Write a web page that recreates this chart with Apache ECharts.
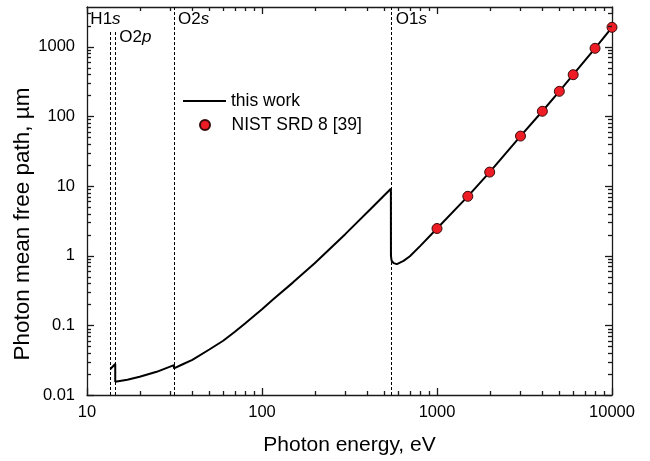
<!DOCTYPE html>
<html>
<head>
<meta charset="utf-8">
<script src="https://cdn.jsdelivr.net/npm/echarts@6/dist/echarts.min.js"></script>
<style>
  html, body { margin: 0; padding: 0; background: #fff; }
  #chart { width: 650px; height: 461px; }
</style>
</head>
<body>
<div id="chart"></div>
<script>
// Calculated photon mean free path (this work): energy in eV, path in µm
const workEnergy = [13.6, 14.5, 14.5, 17, 20, 25, 31.4, 31.4, 35, 40, 50, 60, 70, 80, 100, 116, 150, 200, 300, 416, 545,
                    545.5, 550, 565, 590, 644, 700, 803, 1000, 1500, 2000, 3000, 4000, 5000, 6000, 8000, 10000];
const workPath   = [0.0236, 0.0278, 0.0155, 0.0166, 0.0183, 0.0215, 0.0268, 0.0241, 0.0274, 0.032, 0.045, 0.060, 0.081, 0.106, 0.170, 0.237, 0.41, 0.78, 2.05, 4.62, 9.14,
                    1.0, 0.85, 0.78, 0.755, 0.84, 0.98, 1.38, 2.45, 7.1, 15.8, 52, 118, 228, 395, 945, 1890];

// NIST SRD 8 reference points
const nistEnergy = [1000, 1500, 2000, 3000, 4000, 5000, 6000, 8000, 10000];
const nistPath   = [2.45, 7.1, 15.8, 52, 118, 228, 395, 945, 1890];

// Ionisation thresholds marked by dashed lines
const edgeShell   = ['H1', 'O2', 'O2', 'O1'];
const edgeOrbital = ['s', 'p', 's', 's'];
const edgeEnergy  = [13.6, 14.5, 31.4, 545];

// Axis ranges and labelled decades
const xRange = [10, 10000];
const yRange = [0.01, 3700];
const xTickLabels = ['10', '100', '1000', '10000'];
const yTickLabels = ['0.01', '0.1', '1', '10', '100', '1000'];

const FONT = "'Liberation Sans', Arial, Helvetica, sans-serif";
const INK = '#1a1a1a';
const TICK_INK = '#1a1a1a';
const MAJOR_LEN = 7;
const MINOR_LEN = 4;

// tick values: decades and the 2..9 multiples between them
function decadeValues(lo, hi) {
  const out = [];
  for (let e = Math.ceil(Math.log10(lo) - 1e-9); e <= Math.floor(Math.log10(hi) + 1e-9); e++) out.push(Math.pow(10, e));
  return out;
}
function minorValues(lo, hi) {
  const out = [];
  for (let e = Math.floor(Math.log10(lo)); e <= Math.ceil(Math.log10(hi)); e++) {
    for (let k = 2; k <= 9; k++) {
      const v = k * Math.pow(10, e);
      if (v > lo * 1.0001 && v < hi * 0.9999) out.push(v);
    }
  }
  return out;
}

function decadeLabel(labels) {
  return function (v) {
    const e = Math.log10(v);
    if (Math.abs(e - Math.round(e)) > 1e-6) return '';
    const s = v >= 1 ? String(Math.round(v)) : String(Number(v.toPrecision(1)));
    return labels.indexOf(s) >= 0 ? s : '';
  };
}

// tick rows for the custom series: [x, y, side(0 = x axes, 1 = y axes), length]
const tickRows = []
  .concat(decadeValues(xRange[0], xRange[1]).map(v => [v, yRange[0], 0, MAJOR_LEN]))
  .concat(minorValues(xRange[0], xRange[1]).map(v => [v, yRange[0], 0, MINOR_LEN]))
  .concat(decadeValues(yRange[0], yRange[1]).map(v => [xRange[0], v, 1, MAJOR_LEN]))
  .concat(minorValues(yRange[0], yRange[1]).map(v => [xRange[0], v, 1, MINOR_LEN]));

// inward ticks on both opposite frame sides
function renderTick(params, api) {
  const side = api.value(2);
  const len = api.value(3);
  const style = { stroke: TICK_INK, lineWidth: 1.3 };
  if (side === 0) {
    const v = api.value(0);
    const a = api.coord([v, yRange[0]]);
    const b = api.coord([v, yRange[1]]);
    const x = Math.round(a[0]) + 0.5;
    return { type: 'group', children: [
      { type: 'line', shape: { x1: x, y1: a[1], x2: x, y2: a[1] - len }, style: style },
      { type: 'line', shape: { x1: x, y1: b[1], x2: x, y2: b[1] + len }, style: style }
    ] };
  }
  const v = api.value(1);
  const a = api.coord([xRange[0], v]);
  const b = api.coord([xRange[1], v]);
  const y = Math.round(a[1]) + 0.5;
  return { type: 'group', children: [
    { type: 'line', shape: { x1: a[0], y1: y, x2: a[0] + len, y2: y }, style: style },
    { type: 'line', shape: { x1: b[0], y1: y, x2: b[0] - len, y2: y }, style: style }
  ] };
}

// dashed threshold lines; the two lowest stop below the label row
const edgeLineTop = [1700, 1700, yRange[1], yRange[1]];
const edgeLabelDx = [-20, 4, 4, 5];
const edgeLabelY  = [11, 29, 11, 11];

function logAxis(range, pos) {
  return {
    type: 'log', logBase: 10, min: range[0], max: range[1], position: pos,
    axisLine: { show: true, onZero: false, lineStyle: { color: INK, width: 1.3 } },
    axisTick: { show: false },
    splitLine: { show: false },
    minorTick: { show: false },
    axisLabel: { show: false }
  };
}

const chart = echarts.init(document.getElementById('chart'), null, { renderer: 'canvas' });

const xMain = logAxis(xRange, 'bottom');
xMain.axisLabel = { show: true, color: '#000', fontSize: 16.5, fontFamily: FONT, margin: 9, formatter: decadeLabel(xTickLabels) };
xMain.name = 'Photon energy, eV';
xMain.nameLocation = 'middle';
xMain.nameGap = 40;
xMain.nameTextStyle = { color: '#000', fontSize: 21, fontFamily: FONT };

const yMain = logAxis(yRange, 'left');
yMain.axisLabel = { show: true, color: '#000', fontSize: 16.5, fontFamily: FONT, margin: 12, formatter: decadeLabel(yTickLabels), showMaxLabel: false };

const legendText = { color: '#000', fontSize: 17.5, fontFamily: FONT };

const option = {
  backgroundColor: '#fff',
  animation: false,
  grid: { left: 87, right: 38, top: 7, bottom: 65, containLabel: false },
  xAxis: [xMain, logAxis(xRange, 'top')],
  yAxis: [yMain, logAxis(yRange, 'right')],
  legend: [
    {
      data: [{ name: 'this work', icon: 'rect' }], orient: 'vertical', left: 183, top: 92, padding: 0,
      itemWidth: 43, itemHeight: 2, textStyle: legendText
    },
    {
      data: [{ name: 'NIST SRD 8 [39]', icon: 'circle' }], orient: 'vertical', left: 199, top: 116, padding: 0,
      itemWidth: 43, itemHeight: 10, textStyle: legendText
    }
  ],
  series: [
    {
      name: 'this work', type: 'line', xAxisIndex: 0, yAxisIndex: 0,
      data: workEnergy.map((e, i) => [e, workPath[i]]),
      symbol: 'none', showSymbol: false, smooth: false,
      lineStyle: { color: '#000', width: 2 },
      itemStyle: { color: '#000' },
      z: 3,
      markLine: {
        silent: true, symbol: 'none', animation: false,
        label: { show: false },
        lineStyle: { color: '#000', width: 1, type: [3, 2] },
        data: edgeEnergy.map((e, i) => [
          { coord: [e, yRange[0]] },
          { coord: [e, edgeLineTop[i]] }
        ])
      }
    },
    {
      name: 'NIST SRD 8 [39]', type: 'scatter', xAxisIndex: 0, yAxisIndex: 0,
      data: nistEnergy.map((e, i) => [e, nistPath[i]]),
      symbol: 'circle', symbolSize: 10,
      itemStyle: { color: '#ee1c25', borderColor: '#3a0a0a', borderWidth: 1, opacity: 1 },
      z: 4
    },
    {
      name: 'axis ticks', type: 'custom', xAxisIndex: 0, yAxisIndex: 0,
      coordinateSystem: 'cartesian2d', silent: true, clip: false, z: 5,
      dimensions: ['x', 'y', 'side', 'len'],
      encode: { x: 0, y: 1 },
      data: tickRows,
      renderItem: renderTick
    }
  ]
};
chart.setOption(option);

function toX(v) { return chart.convertToPixel({ xAxisIndex: 0 }, v); }

// threshold labels placed next to their dashed lines
const edgeLabels = edgeEnergy.map((e, i) => ({
  type: 'text', x: toX(e) + edgeLabelDx[i], y: edgeLabelY[i], silent: true,
  style: {
    text: edgeShell[i] + '{i|' + edgeOrbital[i] + '}',
    fill: '#000', fontSize: 17, fontFamily: FONT,
    rich: { i: { fontStyle: 'italic', fontSize: 17, fontFamily: FONT, fill: '#000' } }
  }
}));

// vertical axis title
const yTitle = {
  type: 'text', x: 23, y: 224, rotation: Math.PI / 2, silent: true,
  style: {
    text: 'Photon mean free path, \u00b5m', fill: '#000', fontSize: 22.5, fontFamily: FONT,
    align: 'center', verticalAlign: 'middle'
  }
};

chart.setOption({ graphic: edgeLabels.concat([yTitle]) });
</script>
</body>
</html>
